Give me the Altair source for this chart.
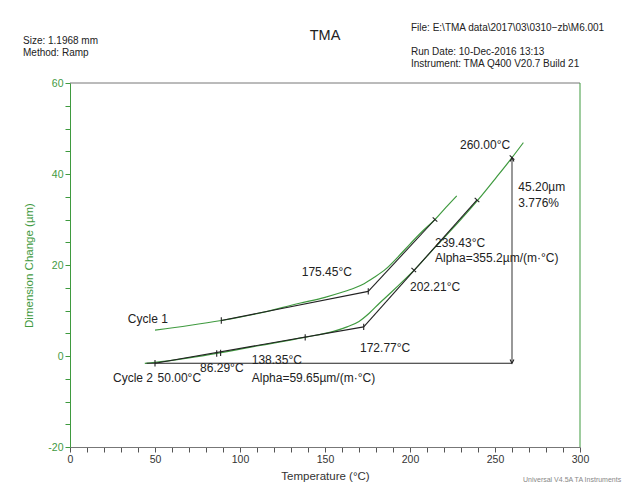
import altair as alt
import pandas as pd

# ---- data ----
c1_T = [50, 70, 89, 110, 135, 150, 160, 167, 173, 179, 186, 193, 200, 207, 214.7, 221, 227.5]
c1_y = [5.7, 6.7, 7.8, 9.3, 11.6, 12.9, 14.0, 14.9, 15.9, 17.3, 19.2, 21.8, 24.6, 27.3, 30.0, 32.6, 35.2]

c2_T = [44, 50, 70, 88, 110, 138, 155, 163, 170, 176, 182, 189, 196, 203, 215, 228, 240, 250, 260, 266.7]
c2_y = [-1.6, -1.4, -0.4, 0.7, 2.2, 4.1, 5.4, 6.4, 7.6, 9.4, 11.6, 14.0, 16.5, 19.1, 24.0, 29.2, 34.3, 38.9, 43.6, 46.9]

# tangent / construction segments (black)
seg_id = ["c1lo", "c1lo", "c1hi", "c1hi", "c2lo", "c2lo", "c2hi", "c2hi", "base", "base"]
seg_T = [89, 175.45, 175.45, 214.7, 50, 172.77, 172.77, 239.43, 45, 260]
seg_y = [7.8, 14.2, 14.2, 30.0, -1.6, 6.4, 6.4, 34.3, -1.6, -1.6]

arrow_T = [260, 260]
arrow_y = [-1.6, 43.6]

# tick marks on curves
tick_T = [89, 175.45, 214.7, 50, 86.3, 88.6, 138.35, 172.77, 202.21, 239.43, 260]
tick_y = [7.8, 14.2, 30.0, -1.6, 0.55, 0.7, 4.1, 6.4, 18.9, 34.3, 43.6]
tick_a = [0, 0, 313, 0, 0, 0, 0, 0, 313, 313, 313]

# annotations
ann_T = [34.0, 25.3, 51.5, 76.5, 106.9, 106.9, 170.6, 136.3, 200, 214.7, 214.7, 229.4, 263.7, 263.7]
ann_y = [8.1, -4.8, -4.8, -2.7, -0.9, -4.8, 1.7, 18.5, 15.2, 24.8, 21.5, 46.4, 37.1, 33.7]
ann_t = ["Cycle 1", "Cycle 2", "50.00°C", "86.29°C", "138.35°C", "Alpha=59.65µm/(m·°C)",
         "172.77°C", "175.45°C", "202.21°C", "239.43°C", "Alpha=355.2µm/(m·°C)",
         "260.00°C", "45.20µm", "3.776%"]

x_ticks = list(range(0, 301, 10))
y_ticks = list(range(-20, 61, 5))

GREEN = "#3f9a3f"
BLACK = "#222222"
FONT = "Liberation Sans"
W, H = 510, 364

xs = alt.Scale(domain=[0, 300], nice=False, zero=False)
ys = alt.Scale(domain=[-20, 60], nice=False, zero=False)

X = alt.X("T:Q", scale=xs, axis=alt.Axis(
    values=x_ticks, tickCount=200, title="Temperature (°C)",
    labelExpr="datum.value % 50 == 0 ? '' + datum.value : ''",
    grid=False, domainColor="#777777", tickColor="#555555", tickSize=5, labelColor="#333333",
    labelFont=FONT, labelFontSize=10.5, titleFont=FONT, titleFontSize=11.5, titleFontWeight="normal",
    titleColor="#333333", labelPadding=2, titlePadding=6, labelFlush=False, labelOverlap=False,
    labelBound=False))
Y = alt.Y("y:Q", scale=ys, axis=alt.Axis(
    values=y_ticks, tickCount=200, title="Dimension Change (µm)",
    labelExpr="datum.value % 20 == 0 ? '' + datum.value : ''",
    grid=False, domainColor=GREEN, tickColor=GREEN, tickSize=5, labelColor=GREEN,
    labelFont=FONT, labelFontSize=10.5, titleFont=FONT, titleFontSize=11.5, titleFontWeight="normal",
    titleColor=GREEN, labelPadding=2, titlePadding=13, labelFlush=False, labelOverlap=False,
    labelBound=False))

df1 = pd.DataFrame({"T": c1_T, "y": c1_y, "c": "1"})
df2 = pd.DataFrame({"T": c2_T, "y": c2_y, "c": "2"})
curves = pd.concat([df1, df2])

curve_layer = alt.Chart(curves).mark_line(color=GREEN, strokeWidth=1.2, interpolate="monotone").encode(
    x=X, y=Y, detail="c:N", order="T:Q")

segs = pd.DataFrame({"T": seg_T, "y": seg_y, "s": seg_id})
seg_layer = alt.Chart(segs).mark_line(color=BLACK, strokeWidth=1.1).encode(
    x=alt.X("T:Q", scale=xs), y=alt.Y("y:Q", scale=ys), detail="s:N")

arr = pd.DataFrame({"T": arrow_T, "y": arrow_y})
arrow_layer = alt.Chart(arr).mark_line(color="#444444", strokeWidth=1.1).encode(
    x=alt.X("T:Q", scale=xs), y=alt.Y("y:Q", scale=ys))

head_up = alt.Chart(arr.iloc[[1]]).mark_point(
    shape="M-0.5,1L0,0L0.5,1", filled=False, color=BLACK, size=60, strokeWidth=1.1, opacity=1
).encode(x=alt.X("T:Q", scale=xs), y=alt.Y("y:Q", scale=ys))
head_dn = alt.Chart(arr.iloc[[0]]).mark_point(
    shape="M-0.5,-1L0,0L0.5,-1", filled=False, color=BLACK, size=60, strokeWidth=1.1, opacity=1
).encode(x=alt.X("T:Q", scale=xs), y=alt.Y("y:Q", scale=ys))

ticks = pd.DataFrame({"T": tick_T, "y": tick_y, "a": tick_a})
tick_layer = alt.Chart(ticks).mark_point(
    shape="M0,-1L0,1", filled=False, color=BLACK, size=40, strokeWidth=1.1, opacity=1
).encode(x=alt.X("T:Q", scale=xs), y=alt.Y("y:Q", scale=ys),
         angle=alt.Angle("a:Q", scale=None))

ann = pd.DataFrame({"T": ann_T, "y": ann_y, "t": ann_t})
ann_layer = alt.Chart(ann).mark_text(
    align="left", baseline="middle", font=FONT, fontSize=12, color=BLACK
).encode(x=alt.X("T:Q", scale=xs), y=alt.Y("y:Q", scale=ys), text="t:N")

# frame (top gray, right green)
top_rule = alt.Chart(pd.DataFrame({"k": [0]})).mark_rule(color="#777777", strokeWidth=1).encode(
    x=alt.value(0), x2=alt.value(W), y=alt.value(0))
right_rule = alt.Chart(pd.DataFrame({"k": [0]})).mark_rule(color=GREEN, strokeWidth=1).encode(
    x=alt.value(W), y=alt.value(0), y2=alt.value(H))

# header texts
hdr_t = ["Size: 1.1968 mm", "Method: Ramp", "File: E:\\TMA data\\2017\\03\\0310−zb\\M6.001",
         "Run Date: 10-Dec-2016 13:13", "Instrument: TMA Q400 V20.7 Build 21"]
hdr_x = [-47, -47, 341, 341, 341]
hdr_y = [-42, -30, -55, -31, -19]
headers = []
for t, hx, hy in zip(hdr_t, hdr_x, hdr_y):
    headers.append(alt.Chart(pd.DataFrame({"t": [t]})).mark_text(
        align="left", baseline="middle", font=FONT, fontSize=10, color="#222222"
    ).encode(x=alt.value(hx), y=alt.value(hy), text="t:N"))

title_txt = alt.Chart(pd.DataFrame({"t": ["TMA"]})).mark_text(
    align="center", baseline="middle", font=FONT, fontSize=14.5, color="#222222"
).encode(x=alt.value(255), y=alt.value(-47), text="t:N")

foot = alt.Chart(pd.DataFrame({"t": ["Universal V4.5A TA Instruments"]})).mark_text(
    align="left", baseline="middle", font=FONT, fontSize=7, color="#888888"
).encode(x=alt.value(453), y=alt.value(397), text="t:N")

chart = alt.layer(
    curve_layer, seg_layer, arrow_layer, head_up, head_dn, tick_layer, ann_layer,
    top_rule, right_rule, title_txt, foot, *headers
).properties(
    width=W, height=H,
    autosize=alt.AutoSizeParams(type="none"),
    padding={"left": 62, "top": 75, "right": 52, "bottom": 40},
    background="white"
).configure_view(stroke=None)

chart.save("out.html", embed_options={"renderer": "svg", "actions": False})
